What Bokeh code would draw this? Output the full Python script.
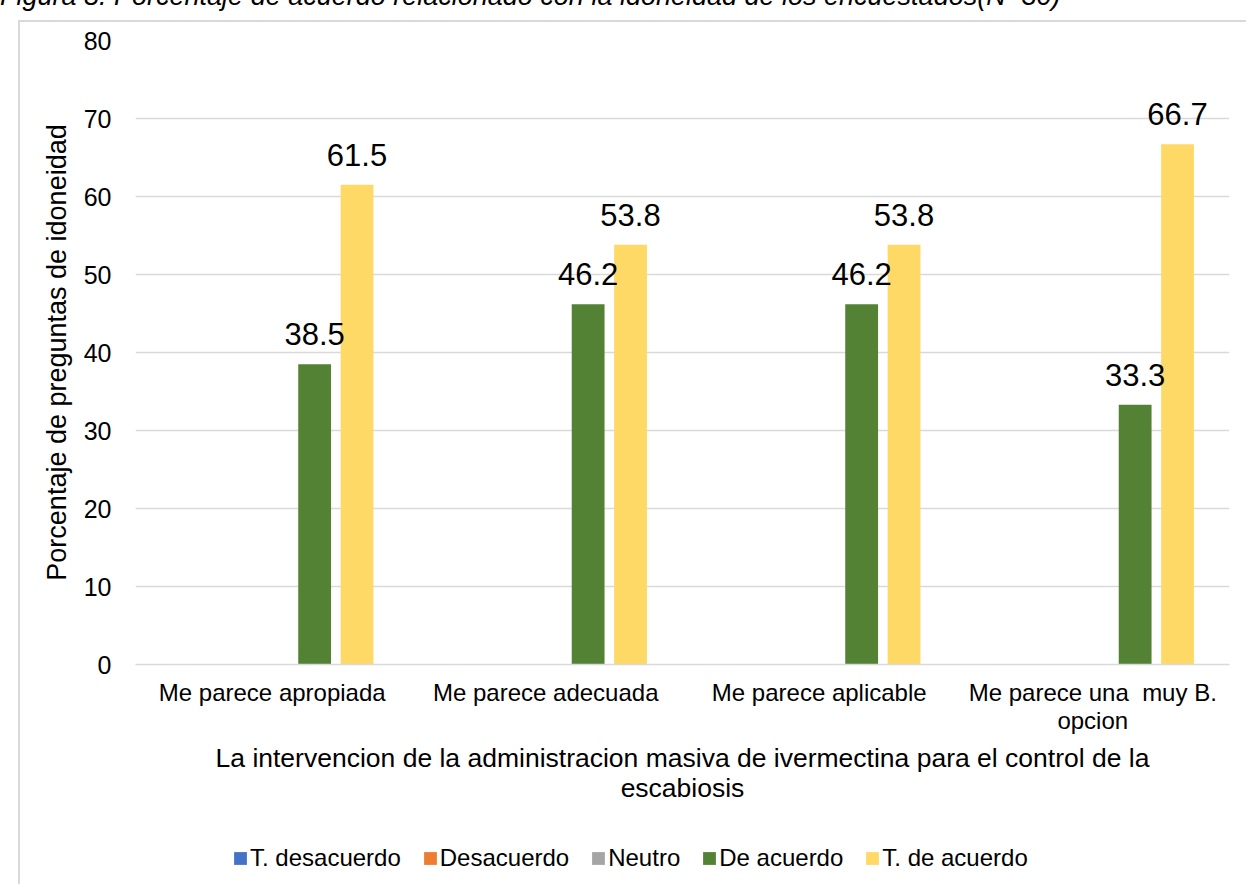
from bokeh.plotting import figure
from bokeh.models import ColumnDataSource, FactorRange, Legend, LegendItem, LabelSet, Div
from bokeh.layouts import column
from bokeh.transform import dodge
from bokeh.embed import file_html
from bokeh.resources import INLINE
from bokeh.core.properties import value

categories = ["Me parece apropiada", "Me parece adecuada", "Me parece aplicable", "Me parece una \u00a0muy B.\nopcion"]
series_names = ["T. desacuerdo", "Desacuerdo", "Neutro", "De acuerdo", "T. de acuerdo"]
t_desacuerdo = [0, 0, 0, 0]
desacuerdo = [0, 0, 0, 0]
neutro = [0, 0, 0, 0]
de_acuerdo = [38.5, 46.2, 46.2, 33.3]
t_de_acuerdo = [61.5, 53.8, 53.8, 66.7]
y_ticks = [0, 10, 20, 30, 40, 50, 60, 70, 80]
caption = "Figura 8. Porcentaje de acuerdo relacionado con la idoneidad de los encuestados(N=30)"
x_title = "La intervencion de la administracion masiva de ivermectina para el control de la\nescabiosis"
y_title = "Porcentaje de preguntas de idoneidad"

colors = ["#4472C4", "#ED7D31", "#A5A5A5", "#548235", "#FFD966"]
keys = ["td", "d", "n", "a", "ta"]
offsets = [-0.31, -0.155, 0.0, 0.155, 0.31]
FONT = "Liberation Sans"
BORDER = "2px solid #D9D9D9"

src = ColumnDataSource(dict(cat=categories, td=t_desacuerdo, d=desacuerdo, n=neutro, a=de_acuerdo, ta=t_de_acuerdo,
                            a_lbl=[f"{v:.1f}" for v in de_acuerdo], ta_lbl=[f"{v:.1f}" for v in t_de_acuerdo]))

# ---- caption (only its lower part is visible, as in the reference) ----
cap_html = ('<div style="margin-top:-18px;position:relative;top:-7px;font-family:\'Liberation Sans\';font-style:italic;'
            'font-size:27px;line-height:30px;white-space:nowrap;color:#000000;">' + caption + '</div>')
cap = Div(text=cap_html, width=1248, height=20, margin=(0, 0, 0, 0), styles={"overflow": "hidden"})

# ---- main chart ----
p = figure(width=1228, height=798, x_range=FactorRange(*categories), y_range=(0, 80),
           output_backend="svg", toolbar_location=None,
           min_border_left=115, min_border_right=19, min_border_top=18, min_border_bottom=156)
p.outline_line_color = None
p.background_fill_color = "white"
p.border_fill_color = "white"
p.margin = (0, 0, 0, 18)
p.styles = {"border-left": BORDER, "border-top": BORDER}

for k, c, off in zip(keys, colors, offsets):
    p.vbar(x=dodge("cat", off, range=p.x_range), top=k, width=0.12, source=src,
           fill_color=c, line_color=None)

for k, off in [("a", 0.155), ("ta", 0.31)]:
    ls = LabelSet(x=dodge("cat", off, range=p.x_range), y=k, text=k + "_lbl", source=src,
                  text_align="center", text_baseline="alphabetic", y_offset=19,
                  text_font=value(FONT), text_font_size="31px", text_color="#000000")
    p.add_layout(ls)

p.xgrid.grid_line_color = None
p.ygrid.grid_line_color = "#D9D9D9"
p.ygrid.grid_line_width = 1.5
p.yaxis.ticker = y_ticks
p.yaxis.axis_line_color = None
p.yaxis.major_tick_line_color = None
p.yaxis.minor_tick_line_color = None
p.yaxis.major_tick_out = 0
p.yaxis.major_label_standoff = 24
p.yaxis.major_label_text_font = FONT
p.yaxis.major_label_text_font_size = "25px"
p.yaxis.major_label_text_color = "#000000"
p.yaxis.axis_label = y_title
p.yaxis.axis_label_text_font = FONT
p.yaxis.axis_label_text_font_style = "normal"
p.yaxis.axis_label_text_font_size = "27px"
p.yaxis.axis_label_text_color = "#000000"
p.yaxis.axis_label_standoff = 9

p.xaxis.axis_line_color = "#D9D9D9"
p.xaxis.axis_line_width = 1.5
p.xaxis.major_tick_line_color = None
p.xaxis.major_tick_out = 0
p.xaxis.major_label_standoff = 14
p.xaxis.major_label_text_font = FONT
p.xaxis.major_label_text_font_size = "24px"
p.xaxis.major_label_text_line_height = 1.05
p.xaxis.major_label_text_color = "#000000"
p.xaxis.axis_label = x_title
p.xaxis.axis_label_text_font = FONT
p.xaxis.axis_label_text_font_style = "normal"
p.xaxis.axis_label_text_font_size = "26.5px"
p.xaxis.axis_label_text_line_height = 1.0
p.xaxis.axis_label_text_color = "#000000"
p.xaxis.axis_label_standoff = 6

# ---- legend strip (same series, legend only; bars fall outside its view) ----
lf = figure(width=1228, height=66, x_range=FactorRange(*categories), y_range=(1000, 1001),
            output_backend="svg", toolbar_location=None,
            x_axis_location=None, y_axis_location=None, min_border=0)
lf.outline_line_color = None
lf.xgrid.grid_line_color = None
lf.ygrid.grid_line_color = None
lf.margin = (0, 0, 0, 18)
lf.styles = {"border-left": BORDER}
items = []
for k, c, off, name in zip(keys, colors, offsets, series_names):
    r = lf.vbar(x=dodge("cat", off, range=lf.x_range), top=k, width=0.12, source=src,
                fill_color=c, line_color=None)
    items.append(LegendItem(label=name, renderers=[r]))
legend = Legend(items=items, orientation="horizontal", location=(97, 12),
                glyph_width=16, glyph_height=16, label_standoff=2, spacing=21,
                padding=0, margin=0, border_line_color=None, background_fill_alpha=0,
                label_text_font=FONT, label_text_font_size="24px", label_text_color="#000000")
lf.add_layout(legend, "center")

layout = column(cap, p, lf, spacing=0)
open("out.html", "w").write(file_html(layout, INLINE))
